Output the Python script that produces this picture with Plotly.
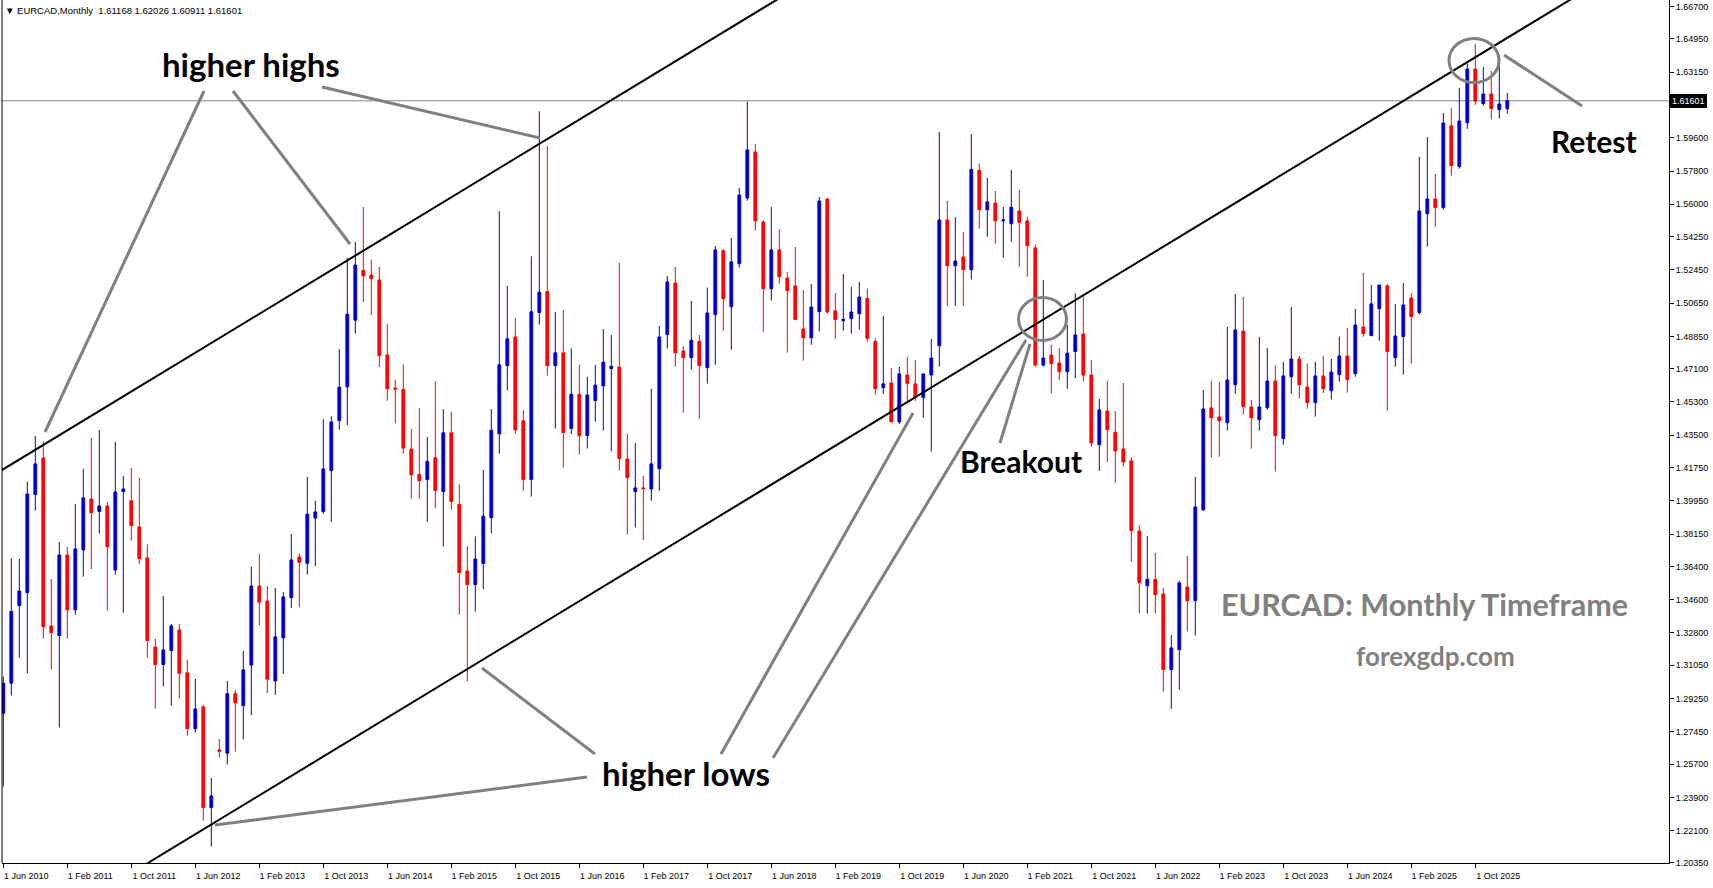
import plotly.graph_objects as go

# ---------------- data (EURCAD monthly, Jun 2010 .. Feb 2026) ----------------
MON = ["Jan", "Feb", "Mar", "Apr", "May", "Jun", "Jul", "Aug", "Sep", "Oct", "Nov", "Dec"]
months = []
y, m = 2010, 6
for _ in range(189):
    months.append(f"{MON[m-1]} {y}")
    m += 1
    if m > 12:
        m, y = 1, y + 1

open_ = [1.2845, 1.3008, 1.3428, 1.3498, 1.4029, 1.4227, 1.3318, 1.3266, 1.3702, 1.3405,
         1.3729, 1.4005, 1.3937, 1.3967, 1.3621, 1.4045, 1.3995, 1.3854, 1.3686, 1.3204,
         1.3109, 1.3185, 1.3296, 1.3064, 1.2762, 1.2880, 1.2335, 1.2647, 1.2629, 1.2951,
         1.2887, 1.3106, 1.3534, 1.3453, 1.3020, 1.3253, 1.3471, 1.3691, 1.3657, 1.3902,
         1.3937, 1.4158, 1.4430, 1.4612, 1.4973, 1.5243, 1.5217, 1.5190, 1.4785, 1.4606,
         1.4598, 1.4275, 1.4138, 1.4110, 1.4228, 1.4045, 1.4363, 1.3976, 1.3615, 1.3542,
         1.3656, 1.3904, 1.4358, 1.4727, 1.4882, 1.4428, 1.4110, 1.5014, 1.5128, 1.4727,
         1.4796, 1.4387, 1.4572, 1.4348, 1.4538, 1.4617, 1.4711, 1.4719, 1.4222, 1.4045,
         1.4065, 1.4059, 1.4169, 1.4895, 1.5174, 1.4806, 1.4770, 1.4858, 1.4716, 1.5003,
         1.5349, 1.5046, 1.5279, 1.5634, 1.5883, 1.5504, 1.5143, 1.5353, 1.5201, 1.5158,
         1.4925, 1.4878, 1.5019, 1.5629, 1.5023, 1.4970, 1.4981, 1.5008, 1.5091, 1.4857,
         1.4608, 1.4633, 1.4422, 1.4676, 1.4628, 1.4554, 1.4676, 1.4835, 1.5515, 1.5268,
         1.5315, 1.5246, 1.5784, 1.5571, 1.5607, 1.5510, 1.5495, 1.5564, 1.5510, 1.5364,
         1.4730, 1.4784, 1.4741, 1.4694, 1.4803, 1.4898, 1.4676, 1.4299, 1.4481, 1.4366,
         1.4276, 1.4211, 1.3832, 1.3536, 1.3570, 1.3491, 1.3082, 1.3190, 1.3529, 1.3455,
         1.3946, 1.4498, 1.4449, 1.4418, 1.4624, 1.4914, 1.4503, 1.4434, 1.4499, 1.4644,
         1.4332, 1.4667, 1.4763, 1.4611, 1.4527, 1.4671, 1.4591, 1.4678, 1.4779, 1.4684,
         1.4936, 1.4889, 1.5035, 1.5158, 1.4770, 1.4884, 1.5093, 1.5014, 1.5549, 1.5629,
         1.5582, 1.6024, 1.5804, 1.6042, 1.6332, 1.6145, 1.6197, 1.6112, 1.61168]

high = [1.3044, 1.3684, 1.3681, 1.4099, 1.4346, 1.4316, 1.3572, 1.3773, 1.3746, 1.3978,
        1.4168, 1.4335, 1.4379, 1.3989, 1.4314, 1.4130, 1.4173, 1.4119, 1.3760, 1.3248,
        1.3480, 1.3329, 1.3329, 1.3134, 1.3031, 1.2890, 1.2495, 1.2706, 1.3020, 1.2971,
        1.3183, 1.3638, 1.3709, 1.3534, 1.3523, 1.3501, 1.3816, 1.3711, 1.4124, 1.3995,
        1.4437, 1.4453, 1.4816, 1.5309, 1.5396, 1.5585, 1.5301, 1.5261, 1.4951, 1.4650,
        1.4733, 1.4384, 1.4497, 1.4340, 1.4643, 1.4491, 1.4477, 1.4084, 1.3750, 1.3803,
        1.4163, 1.4491, 1.5562, 1.5159, 1.4986, 1.4487, 1.5319, 1.6103, 1.5916, 1.5018,
        1.5028, 1.4821, 1.4731, 1.4666, 1.4731, 1.4924, 1.4892, 1.5283, 1.4358, 1.4308,
        1.4130, 1.4601, 1.4943, 1.5212, 1.5261, 1.4833, 1.5077, 1.4893, 1.5149, 1.5374,
        1.5358, 1.5418, 1.5688, 1.6156, 1.5926, 1.5513, 1.5585, 1.5466, 1.5234, 1.5369,
        1.5136, 1.5169, 1.5640, 1.5634, 1.5120, 1.5223, 1.5152, 1.5180, 1.5145, 1.4875,
        1.4996, 1.4714, 1.4720, 1.4774, 1.4757, 1.4682, 1.4871, 1.5991, 1.5618, 1.5531,
        1.5450, 1.5980, 1.5822, 1.5742, 1.5672, 1.5585, 1.5786, 1.5679, 1.5533, 1.5382,
        1.5190, 1.4839, 1.4822, 1.4947, 1.5118, 1.5100, 1.4757, 1.4546, 1.4644, 1.4481,
        1.4633, 1.4232, 1.3864, 1.3805, 1.3713, 1.3524, 1.3269, 1.3561, 1.3697, 1.4124,
        1.4595, 1.4644, 1.4638, 1.4936, 1.5115, 1.5098, 1.4541, 1.4882, 1.4822, 1.4730,
        1.4747, 1.5044, 1.4779, 1.4738, 1.4747, 1.4779, 1.4763, 1.4884, 1.4931, 1.5033,
        1.5228, 1.5163, 1.5163, 1.5169, 1.5061, 1.5174, 1.5120, 1.5856, 1.5964, 1.5764,
        1.6094, 1.6121, 1.6230, 1.6363, 1.6468, 1.6343, 1.6322, 1.6354, 1.62026]

low = [1.2448, 1.2941, 1.3147, 1.3062, 1.3942, 1.3250, 1.3082, 1.2768, 1.3250, 1.3379,
       1.3585, 1.3626, 1.3818, 1.3399, 1.3596, 1.3390, 1.3780, 1.3652, 1.3147, 1.2871,
       1.2990, 1.2887, 1.2925, 1.2724, 1.2741, 1.2264, 1.2124, 1.2605, 1.2568, 1.2637,
       1.2703, 1.2836, 1.3322, 1.2955, 1.2945, 1.3058, 1.3415, 1.3419, 1.3596, 1.3642,
       1.3925, 1.3882, 1.4380, 1.4406, 1.4900, 1.5071, 1.5001, 1.4719, 1.4537, 1.4414,
       1.4251, 1.4005, 1.4005, 1.3882, 1.3955, 1.3748, 1.3947, 1.3379, 1.3019, 1.3395,
       1.3517, 1.3819, 1.4250, 1.4593, 1.4358, 1.4051, 1.4018, 1.4949, 1.4672, 1.4387,
       1.4175, 1.4356, 1.4246, 1.4279, 1.4424, 1.4375, 1.4263, 1.4159, 1.3813, 1.3851,
       1.3782, 1.3996, 1.4050, 1.4819, 1.4721, 1.4472, 1.4705, 1.4440, 1.4629, 1.4732,
       1.4916, 1.4812, 1.5257, 1.5620, 1.5457, 1.4909, 1.5079, 1.5171, 1.4797, 1.4976,
       1.4754, 1.4840, 1.4911, 1.5008, 1.4873, 1.4916, 1.4900, 1.4922, 1.4857, 1.4568,
       1.4573, 1.4422, 1.4411, 1.4523, 1.4536, 1.4445, 1.4261, 1.4721, 1.5050, 1.5050,
       1.5050, 1.5192, 1.5468, 1.5425, 1.5387, 1.5311, 1.5398, 1.5263, 1.5208, 1.4721,
       1.4721, 1.4577, 1.4649, 1.4602, 1.4658, 1.4640, 1.4288, 1.4157, 1.4205, 1.4094,
       1.4180, 1.3666, 1.3385, 1.3385, 1.3385, 1.2962, 1.2870, 1.2973, 1.3287, 1.3266,
       1.3942, 1.4229, 1.4234, 1.4375, 1.4575, 1.4462, 1.4278, 1.4375, 1.4489, 1.4153,
       1.4299, 1.4575, 1.4548, 1.4494, 1.4451, 1.4579, 1.4543, 1.4640, 1.4581, 1.4667,
       1.4884, 1.4889, 1.4862, 1.4483, 1.4721, 1.4678, 1.4738, 1.5003, 1.5371, 1.5479,
       1.5571, 1.5755, 1.5793, 1.6009, 1.6139, 1.6134, 1.6058, 1.6064, 1.60911]

close = [1.3008, 1.3396, 1.3507, 1.4032, 1.4195, 1.3314, 1.3282, 1.3702, 1.3405, 1.3735,
         1.4011, 1.3931, 1.3967, 1.3747, 1.4043, 1.4059, 1.3861, 1.3682, 1.3239, 1.3109,
         1.3188, 1.3318, 1.3062, 1.2762, 1.2869, 1.2335, 1.2398, 1.2640, 1.2951, 1.2901,
         1.3080, 1.3534, 1.3447, 1.3030, 1.3259, 1.3475, 1.3675, 1.3663, 1.3923, 1.3935,
         1.4168, 1.4422, 1.4610, 1.5005, 1.5271, 1.5213, 1.5198, 1.4781, 1.4602, 1.4600,
         1.4281, 1.4136, 1.4104, 1.4209, 1.4051, 1.4363, 1.3992, 1.3607, 1.3542, 1.3680,
         1.3912, 1.4377, 1.4731, 1.4872, 1.4379, 1.4110, 1.5018, 1.5124, 1.4727, 1.4796,
         1.4365, 1.4572, 1.4348, 1.4568, 1.4621, 1.4745, 1.4723, 1.4224, 1.4120, 1.4065,
         1.4061, 1.4195, 1.4882, 1.5180, 1.4797, 1.4770, 1.4864, 1.4727, 1.5012, 1.5353,
         1.5089, 1.5288, 1.5650, 1.5894, 1.5511, 1.5143, 1.5353, 1.5208, 1.5133, 1.4976,
         1.4878, 1.5044, 1.5618, 1.5017, 1.4976, 1.4977, 1.5017, 1.5098, 1.4875, 1.4602,
         1.4628, 1.4422, 1.4682, 1.4631, 1.4555, 1.4682, 1.4768, 1.5515, 1.5268, 1.5293,
         1.5246, 1.5789, 1.5571, 1.5613, 1.5511, 1.5515, 1.5584, 1.5501, 1.5376, 1.4730,
         1.4768, 1.4738, 1.4694, 1.4794, 1.4893, 1.4676, 1.4308, 1.4487, 1.4380, 1.4265,
         1.4205, 1.3834, 1.3552, 1.3570, 1.3487, 1.3082, 1.3199, 1.3551, 1.3455, 1.3962,
         1.4492, 1.4445, 1.4429, 1.4649, 1.4920, 1.4505, 1.4445, 1.4503, 1.4644, 1.4348,
         1.4671, 1.4763, 1.4624, 1.4527, 1.4671, 1.4602, 1.4692, 1.4779, 1.4651, 1.4947,
         1.4900, 1.5061, 1.5163, 1.4803, 1.4887, 1.5055, 1.4992, 1.5564, 1.5629, 1.5582,
         1.6040, 1.5809, 1.6051, 1.6332, 1.6159, 1.6197, 1.6118, 1.6143, 1.61601]

x_idx = list(range(len(open_)))

x_tick_pos = list(range(0, 185, 8))
x_tick_text = ["1 Jun 2010", "1 Feb 2011", "1 Oct 2011", "1 Jun 2012", "1 Feb 2013", "1 Oct 2013",
               "1 Jun 2014", "1 Feb 2015", "1 Oct 2015", "1 Jun 2016", "1 Feb 2017", "1 Oct 2017",
               "1 Jun 2018", "1 Feb 2019", "1 Oct 2019", "1 Jun 2020", "1 Feb 2021", "1 Oct 2021",
               "1 Jun 2022", "1 Feb 2023", "1 Oct 2023", "1 Jun 2024", "1 Feb 2025", "1 Oct 2025"]

y_ticks = [1.66700, 1.64950, 1.63150, 1.61350, 1.59600, 1.57800, 1.56000, 1.54250, 1.52450,
           1.50650, 1.48850, 1.47100, 1.45300, 1.43500, 1.41750, 1.39950, 1.38150, 1.36400,
           1.34600, 1.32800, 1.31050, 1.29250, 1.27450, 1.25700, 1.23900, 1.22100, 1.20350]

last_price = 1.61601

# channel lines (price at month index 0, slope per month)
upper_start, lower_start, channel_slope = 1.4166, 1.1560, 0.002628
channel_k = [-3, 215]

# ---------------- styling ----------------
W, H = 1713, 888
ML, MR, MT, MB = 2, 44, 0, 25
PW, PH = W - ML - MR, H - MT - MB
BLUE, RED, GREY = "#0000CD", "#FF0000", "#808080"
SMALL = "Liberation Sans, Arial, DejaVu Sans"
BIG = "Lato, Noto Sans, sans-serif"


def px(xf):
    return (xf - ML) / PW


def py(yf):
    return 1 - (yf - MT) / PH


# the tick label hidden under the current-price box is left blank
y_tick_text = ["" if abs(v - last_price) < 0.004 else f"{v:.5f}" for v in y_ticks]

fig = go.Figure()
fig.add_trace(go.Candlestick(
    x=x_idx, open=open_, high=high, low=low, close=close, text=months,
    increasing=dict(line=dict(color=BLUE, width=1), fillcolor=BLUE),
    decreasing=dict(line=dict(color=RED, width=1), fillcolor=RED),
    whiskerwidth=0, showlegend=False, name="EURCAD"))

for start in (upper_start, lower_start):
    fig.add_trace(go.Scatter(
        x=channel_k, y=[start + channel_slope * k for k in channel_k], mode="lines",
        line=dict(color="black", width=2), hoverinfo="skip", showlegend=False))

shapes = []
# bid line
shapes.append(dict(type="line", xref="paper", yref="y", x0=0, x1=1, y0=last_price, y1=last_price,
                   line=dict(color="#778899", width=1), layer="below"))
# left border
shapes.append(dict(type="line", xref="paper", yref="paper", x0=0, x1=0, y0=0, y1=1,
                   line=dict(color="black", width=1)))

pointer_lines = [
    ((204, 91), (45, 432)),
    ((233, 91), (350, 244)),
    ((322, 87), (540, 138)),
    ((595, 754), (482, 668)),
    ((587, 777), (215, 825)),
    ((721, 754), (913, 413)),
    ((773, 758), (1026, 340)),
    ((1000, 443), (1030, 344)),
    ((1582, 106), (1504, 55)),
]
for (xa, ya), (xb, yb) in pointer_lines:
    shapes.append(dict(type="line", xref="paper", yref="paper",
                       x0=px(xa), y0=py(ya), x1=px(xb), y1=py(yb),
                       line=dict(color=GREY, width=3)))

circles = [(1042.5, 319, 24, 21.5), (1474, 60.5, 25, 22)]
for cx, cy, rx, ry in circles:
    shapes.append(dict(type="circle", xref="paper", yref="paper",
                       x0=px(cx - rx), x1=px(cx + rx), y0=py(cy + ry), y1=py(cy - ry),
                       line=dict(color=GREY, width=3)))

annotations = []
big_texts = [
    ("higher highs", 251, 64, 33, "black"),
    ("higher lows", 686, 773, 33, "black"),
    ("Breakout", 1021, 461, 30, "black"),
    ("Retest", 1594, 141, 30, "black"),
    ("EURCAD: Monthly Timeframe", 1424, 604, 30.5, GREY),
    ("forexgdp.com", 1435, 656, 26, GREY),
]
for txt, xc, yc, size, col in big_texts:
    annotations.append(dict(text=f"<b>{txt}</b>", xref="paper", yref="paper", x=px(xc), y=py(yc),
                            xanchor="center", yanchor="middle", showarrow=False,
                            font=dict(family=BIG, size=size, color=col)))

annotations.append(dict(text="▼ EURCAD,Monthly  1.61168 1.62026 1.60911 1.61601",
                        xref="paper", yref="paper", x=px(3), y=py(10), xanchor="left", yanchor="middle",
                        showarrow=False, font=dict(family=SMALL, size=9.5, color="black")))
annotations.append(dict(text=f"{last_price:.5f}", xref="paper", yref="y", x=1, y=last_price,
                        xanchor="left", yanchor="middle", xshift=1, showarrow=False,
                        bgcolor="black", bordercolor="black", borderpad=1,
                        font=dict(family=SMALL, size=9, color="white")))

fig.update_layout(
    width=W, height=H, margin=dict(l=ML, r=MR, t=MT, b=MB, pad=0),
    paper_bgcolor="white", plot_bgcolor="white", boxgap=0.5,
    showlegend=False, shapes=shapes, annotations=annotations,
    xaxis=dict(range=[-0.1625, 208.2125], tickmode="array", tickvals=x_tick_pos, ticktext=x_tick_text,
               ticks="outside", ticklen=4, tickcolor="black", showline=True, linecolor="black",
               linewidth=1, showgrid=False, zeroline=False, rangeslider=dict(visible=False),
               ticklabelshift=23, tickfont=dict(family=SMALL, size=9, color="black"), automargin=False),
    yaxis=dict(range=[1.20349, 1.67057], side="right", tickmode="array", tickvals=y_ticks,
               ticktext=y_tick_text, ticks="outside", ticklen=4, tickcolor="black",
               showline=True, linecolor="black", linewidth=1, showgrid=False, zeroline=False,
               tickfont=dict(family=SMALL, size=9, color="black"), automargin=False),
)

fig.write_html("out.html")
